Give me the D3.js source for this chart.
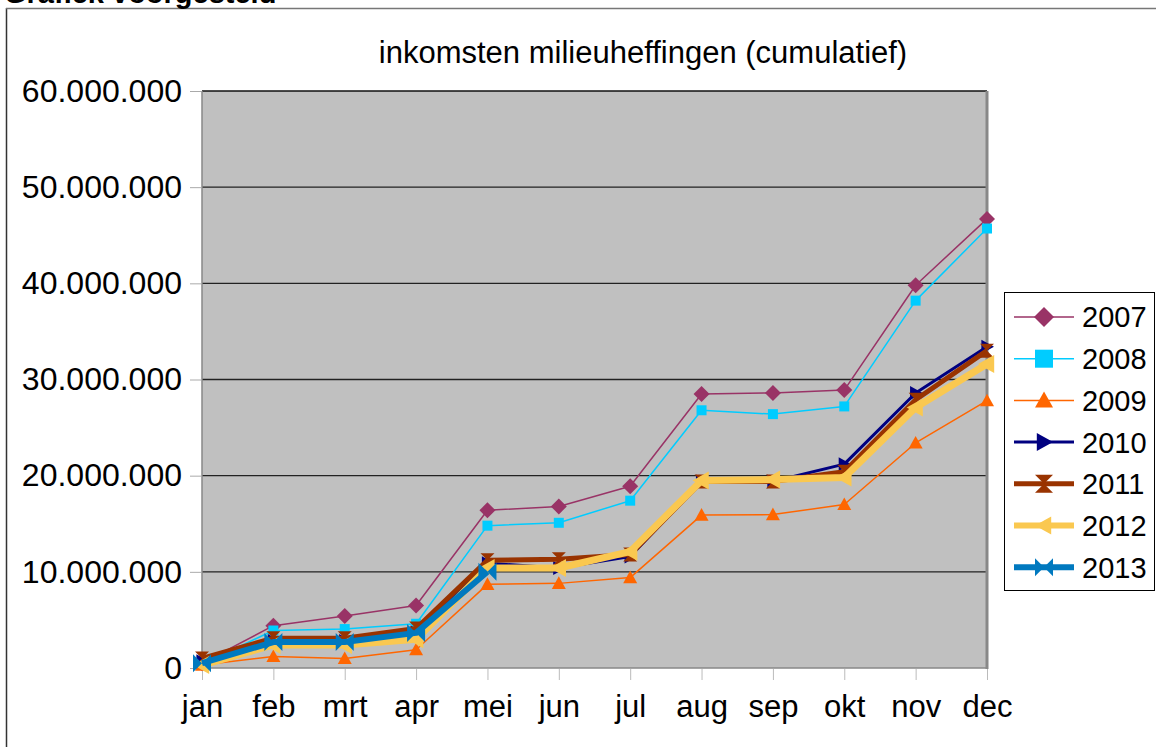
<!DOCTYPE html>
<html>
<head>
<meta charset="utf-8">
<script src="https://cdn.jsdelivr.net/npm/d3@7"></script>
<style>
  body { margin: 0; background: #fff; }
  svg { display: block; font-family: "Liberation Sans", Arial, sans-serif; }
</style>
</head>
<body>
<div id="chart"></div>
<script>
// months on the x axis
const months = ["jan", "feb", "mrt", "apr", "mei", "jun", "jul", "aug", "sep", "okt", "nov", "dec"];
const years = ["2007", "2008", "2009", "2010", "2011", "2012", "2013"];

// cumulative income per month (euro)
const values2007 = [500000, 4400000, 5400000, 6500000, 16400000, 16800000, 18900000, 28500000, 28600000, 28900000, 39800000, 46700000];
const values2008 = [400000, 3900000, 4050000, 4600000, 14800000, 15100000, 17400000, 26800000, 26400000, 27200000, 38200000, 45700000];
const values2009 = [300000, 1200000, 1000000, 1900000, 8700000, 8800000, 9400000, 15900000, 15950000, 17000000, 23400000, 27800000];
const values2010 = [700000, 2800000, 2800000, 3700000, 10900000, 10400000, 11600000, 19400000, 19400000, 21200000, 28600000, 33400000];
const values2011 = [1000000, 3100000, 3100000, 4100000, 11200000, 11300000, 11800000, 19400000, 19400000, 20400000, 27900000, 33000000];
const values2012 = [300000, 2400000, 2400000, 3000000, 10400000, 10400000, 12100000, 19500000, 19600000, 19800000, 27100000, 31600000];
const values2013 = [500000, 2700000, 2700000, 3650000, 10000000];

const seriesValues = [values2007, values2008, values2009, values2010, values2011, values2012, values2013];
const yTicks = [0, 10000000, 20000000, 30000000, 40000000, 50000000, 60000000];

// look of each year: colour, line width, marker shape and size
const styles = [
    { color: "#993366", width: 1.5, shape: "diamond", size: 8, legendSize: 10 },
    { color: "#00CCFF", width: 1.5, shape: "square", size: 5, legendSize: 9 },
    { color: "#FF6600", width: 1.5, shape: "triangle", size: 7, legendSize: 9 },
    { color: "#000080", width: 3, shape: "right", size: 7, legendSize: 9 },
    { color: "#993300", width: 5, shape: "hourglass", size: 7, legendSize: 9 },
    { color: "#FAC850", width: 7, shape: "left", size: 9, legendSize: 9 },
    { color: "#0079BF", width: 6, shape: "bowtie", size: 9, legendSize: 9 }
];

const width = 1156, height = 747;
const plot = { left: 202, right: 987, top: 91, bottom: 668 };

const svg = d3.select("#chart").append("svg")
    .attr("width", width)
    .attr("height", height);

// outer frame of the chart object
svg.append("line").attr("x1", 6.5).attr("x2", 6.5).attr("y1", 8).attr("y2", height)
    .attr("stroke", "#333").attr("stroke-width", 1.5);
svg.append("line").attr("x1", 6).attr("x2", width).attr("y1", 8.5).attr("y2", 8.5)
    .attr("stroke", "#777").attr("stroke-width", 1.5);

// header that is cut off at the top
svg.append("text").attr("x", 4).attr("y", 3)
    .attr("font-size", 29).attr("font-weight", "bold").attr("fill", "#000")
    .text("Grafiek voorgesteld");

svg.append("text")
    .attr("x", 643).attr("y", 63)
    .attr("text-anchor", "middle")
    .attr("font-size", 31)
    .text("inkomsten milieuheffingen (cumulatief)");

const x = d3.scalePoint().domain(months).range([plot.left, plot.right]);
const y = d3.scaleLinear().domain([0, 60000000]).range([plot.bottom, plot.top]);

const nl = d3.formatLocale({ decimal: ",", thousands: ".", grouping: [3], currency: ["€", ""] });
const fmt = nl.format(",d");

// plot area
svg.append("rect")
    .attr("x", plot.left).attr("y", plot.top)
    .attr("width", plot.right - plot.left).attr("height", plot.bottom - plot.top)
    .attr("fill", "#C0C0C0");

// grid lines
svg.append("g").selectAll("line")
    .data(yTicks.filter(d => d > 0)).enter().append("line")
    .attr("x1", plot.left).attr("x2", plot.right)
    .attr("y1", d => y(d)).attr("y2", d => y(d))
    .attr("stroke", d => d === 60000000 ? "#111" : "#222")
    .attr("stroke-width", 1.4);

// plot border left/bottom/right
svg.append("path")
    .attr("d", `M${plot.left},${plot.top}V${plot.bottom}H${plot.right}V${plot.top}`)
    .attr("fill", "none").attr("stroke", "#888").attr("stroke-width", 1.5);
svg.append("line").attr("x1", plot.right).attr("x2", plot.right)
    .attr("y1", plot.top).attr("y2", plot.bottom + 1)
    .attr("stroke", "#888").attr("stroke-width", 3);

// y axis
const yAxis = svg.append("g")
    .attr("transform", `translate(${plot.left - 1},0)`)
    .call(d3.axisLeft(y).tickValues(yTicks).tickFormat(fmt).tickSize(11).tickPadding(8));
yAxis.select(".domain").remove();
yAxis.selectAll(".tick line").attr("stroke", "#aaa");
yAxis.selectAll("text").attr("font-size", 32).attr("fill", "#000")
    .attr("font-family", "'Liberation Sans', Arial, sans-serif");

// x axis
const xAxis = svg.append("g")
    .attr("transform", `translate(0,${plot.bottom + 1})`)
    .call(d3.axisBottom(x).tickSize(11).tickPadding(15));
xAxis.select(".domain").remove();
xAxis.selectAll(".tick line").attr("stroke", "#bbb");
xAxis.selectAll("text").attr("font-size", 31).attr("fill", "#000")
    .attr("font-family", "'Liberation Sans', Arial, sans-serif");

// marker shapes, centered on 0,0
function markerPath(shape, s) {
    switch (shape) {
        case "diamond": return `M0,${-s}L${s},0L0,${s}L${-s},0Z`;
        case "square": return `M${-s},${-s}H${s}V${s}H${-s}Z`;
        case "triangle": return `M0,${-s}L${s},${s * 0.8}L${-s},${s * 0.8}Z`;
        case "right": return `M${s},0L${-s * 0.8},${-s}L${-s * 0.8},${s}Z`;
        case "left": return `M${-s},0L${s * 0.8},${-s}L${s * 0.8},${s}Z`;
        case "hourglass": return `M${-s},${-s}H${s}L${-s},${s}H${s}Z`;
        case "bowtie": return `M${-s},${-s}V${s}L${s},${-s}V${s}Z`;
    }
}

const line = d3.line()
    .x((d, i) => x(months[i]))
    .y(d => y(d));

const seriesG = svg.append("g");
seriesValues.forEach((vals, k) => {
    const st = styles[k];
    const g = seriesG.append("g");
    g.append("path")
        .datum(vals)
        .attr("d", line)
        .attr("fill", "none")
        .attr("stroke", st.color)
        .attr("stroke-width", st.width)
        .attr("stroke-linejoin", "round");
    g.selectAll("path.marker")
        .data(vals).enter().append("path")
        .attr("class", "marker")
        .attr("d", markerPath(st.shape, st.size))
        .attr("transform", (d, i) => `translate(${x(months[i])},${y(d)})`)
        .attr("fill", st.color);
});

// legend
const legend = svg.append("g");
legend.append("rect")
    .attr("x", 1004.5).attr("y", 292.5)
    .attr("width", 150).attr("height", 298)
    .attr("fill", "#fff").attr("stroke", "#000").attr("stroke-width", 1);

years.forEach((yr, k) => {
    const st = styles[k];
    const cy = 317 + k * 41.7;
    legend.append("line")
        .attr("x1", 1014).attr("x2", 1074)
        .attr("y1", cy).attr("y2", cy)
        .attr("stroke", st.color)
        .attr("stroke-width", Math.min(st.width, 6));
    legend.append("path")
        .attr("d", markerPath(st.shape, st.legendSize))
        .attr("transform", `translate(1044,${cy})`)
        .attr("fill", st.color);
    legend.append("text")
        .attr("x", 1082).attr("y", cy)
        .attr("dy", "0.36em")
        .attr("font-size", 29)
        .text(yr);
});
</script>
</body>
</html>
